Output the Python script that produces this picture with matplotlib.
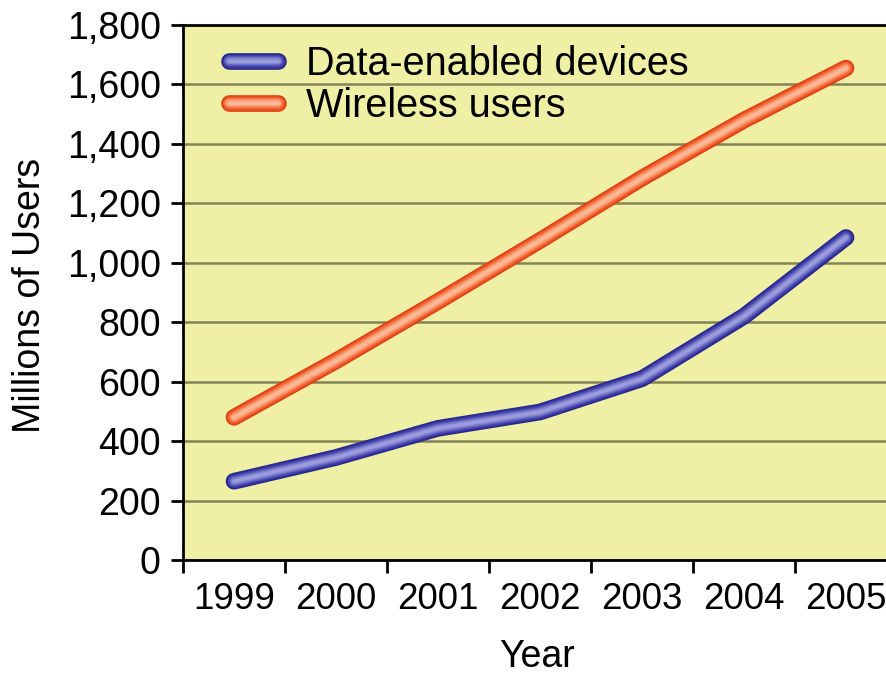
import matplotlib
matplotlib.use("Agg")
import matplotlib.pyplot as plt
import matplotlib.patheffects as pe
from matplotlib.ticker import FuncFormatter, FixedLocator
import numpy as np

plt.rcParams['font.family'] = ['Liberation Sans', 'DejaVu Sans']

years = ['1999', '2000', '2001', '2002', '2003', '2004', '2005']
data_devices = [265, 345, 443, 498, 610, 820, 1085]
wireless_users = [480, 670, 870, 1075, 1285, 1480, 1655]
y_ticks = [0, 200, 400, 600, 800, 1000, 1200, 1400, 1600, 1800]

fig = plt.figure(figsize=(8.86, 6.75), dpi=100)
ax = fig.add_axes([183/886, 1 - 560/675, 1 - 183/886, (560 - 25)/675])
ax.set_facecolor('#eff0a6')

x = np.arange(len(years))


def glossy(colors):
    # dark rim -> light core, plus a soft drop shadow
    fx = [pe.SimpleLineShadow(offset=(3, -3), shadow_color='#4a4a18', alpha=0.3)]
    widths = [12, 10.5, 9, 7.5, 6, 4.5]
    for w, c in zip(widths, colors):
        fx.append(pe.Stroke(linewidth=w, foreground=c))
    fx.append(pe.Normal())
    return fx


blue_fx = glossy(['#26268a', '#30309a', '#3f3fa8', '#5353b6', '#6a6ac4', '#8282d0'])
red_fx = glossy(['#dc3c12', '#e84a1c', '#f05c2c', '#f4723f', '#f78a5c', '#f9a27c'])

ax.plot(x, data_devices, color='#9c9cdc', lw=2.5, solid_capstyle='round',
        solid_joinstyle='round', label='Data-enabled devices',
        path_effects=blue_fx, zorder=3)
ax.plot(x, wireless_users, color='#fbb896', lw=2.5, solid_capstyle='round',
        solid_joinstyle='round', label='Wireless users',
        path_effects=red_fx, zorder=3)

ax.set_xlim(-0.5, -0.5 + 703/102)
ax.set_ylim(0, 1800)

# year boundaries get the tick marks, year labels sit in between
ax.xaxis.set_major_locator(FixedLocator(np.arange(len(years)) - 0.5))
ax.xaxis.set_major_formatter(FuncFormatter(lambda v, p: ''))
ax.xaxis.set_minor_locator(FixedLocator(x))
ax.set_xticklabels(years, minor=True)
ax.tick_params(axis='x', which='major', length=9, width=2, direction='out')
ax.tick_params(axis='x', which='minor', length=0, pad=16, labelsize=26.5)

ax.set_yticks(y_ticks)
ax.yaxis.set_major_formatter(FuncFormatter(lambda v, p: f'{int(v):,}'))
ax.tick_params(axis='y', length=9, width=2, direction='out', pad=7, labelsize=27)

ax.grid(axis='y', color='#77774e', lw=1.8, alpha=0.9)
ax.set_axisbelow(True)

for s in ['left', 'bottom', 'top']:
    ax.spines[s].set_linewidth(2)
    ax.spines[s].set_color('black')
ax.spines['right'].set_visible(False)

fig.text(30/886, 1 - 295/675, 'Millions of Users', rotation=90, fontsize=27,
         ha='center', va='center')
fig.text(537/886, 1 - 657/675, 'Year', fontsize=27, ha='center', va='center')

ax.legend(loc='upper left', bbox_to_anchor=(0.054, 0.978), frameon=False,
          fontsize=28.5, handlelength=1.25, handletextpad=0.7, labelspacing=0.11,
          borderaxespad=0, borderpad=0.2)

fig.savefig('out.png', dpi=100)
